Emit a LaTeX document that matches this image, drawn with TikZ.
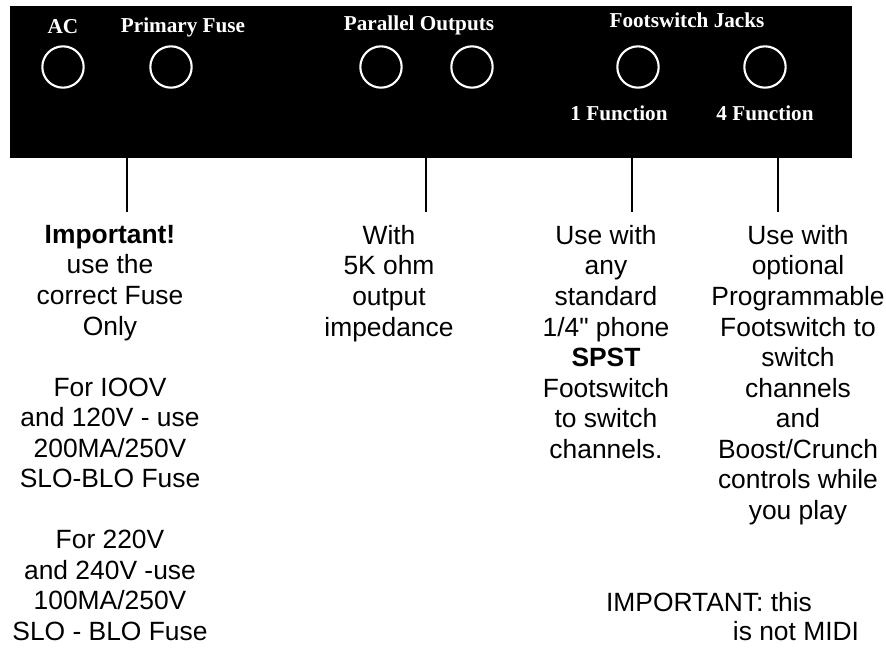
\documentclass[tikz,border=0pt]{standalone}
\usepackage{fontspec}
\setmainfont{Liberation Sans}[Ligatures=TeXOff]
\newfontfamily\panelfont{Liberation Serif}
\usetikzlibrary{shapes,calc}
\usetikzlibrary{positioning}

\begin{document}
\begin{tikzpicture}[x=0.75pt,y=-0.75pt]
	\tikzset{panel/.style={rectangle, fill=black, minimum width=631.5pt, minimum height=114pt, inner sep=0pt}};
	\tikzset{jack/.style={circle, draw=white, line width=1.6pt, minimum size=31pt, inner sep=0pt}};
	\tikzset{tag/.style={text=white, font=\panelfont\bfseries\fontsize{15.9pt}{18pt}\selectfont, inner sep=0pt}};
	\tikzset{note/.style={align=center, anchor=north, inner sep=0pt, font=\fontsize{19.8pt}{22.9pt}\selectfont}};
	\tikzset{lead/.style={line width=1.5pt}};
	\useasboundingbox (0,0) rectangle (886,647);
	% Place nodes
	\node [panel] (panel) at (431,81.5) {};
	\node [tag] (ac) at (63,27) {AC};
	\node [tag] (fuse) at (183,27) {Primary Fuse};
	\node [tag] (outs) at (419,25) {Parallel Outputs};
	\node [tag] (foot) at (687,20) {Footswitch Jacks};
	\node [tag] (one) at (619,113) {1 Function};
	\node [tag] (four) at (765,113) {4 Function};
	\node [jack] (acjack) at (63,67) {};
	\node [jack] (fusejack) at (171,67) {};
	\node [jack] (outjack1) at (381,67) {};
	\node [jack] (outjack2) at (472,67) {};
	\node [jack] (onejack) at (638,67) {};
	\node [jack] (fourjack) at (765,67) {};

	\node [note] (fusenote) at (110,225) {\textbf{Important!}\\ use the\\ correct Fuse\\ Only\\[22.9pt]
		For IOOV\\ and 120V - use\\ 200MA/250V\\ SLO-BLO Fuse\\[22.9pt]
		For 220V\\ and 240V -use\\ 100MA/250V\\ SLO - BLO Fuse};
	\node [note] (outnote) at (389,225) {With\\ 5K ohm\\ output\\ impedance};
	\node [note] (onenote) at (606,225) {Use with\\ any\\ standard\\ 1/4" phone\\ \textbf{SPST}\\ Footswitch\\ to switch\\ channels.};
	\node [note] (fournote) at (798,225) {Use with\\ optional\\ Programmable\\ Footswitch to\\ switch\\ channels\\ and\\ Boost/Crunch\\ controls while\\ you play};
	\node [note, anchor=center] (midi1) at (709,602) {IMPORTANT: this};
	\node [note, anchor=center] (midi2) at (796,631) {is not MIDI};

	%Place draw
	\coordinate (fuseend) at (127,212);
	\coordinate (outend) at (426,212);
	\coordinate (oneend) at (632,212);
	\coordinate (fourend) at (778,212);
	\draw [lead] (panel.south -| fuseend) -- (fuseend);
	\draw [lead] (panel.south -| outend) -- (outend);
	\draw [lead] (panel.south -| oneend) -- (oneend);
	\draw [lead] (panel.south -| fourend) -- (fourend);
\end{tikzpicture}
\end{document}
